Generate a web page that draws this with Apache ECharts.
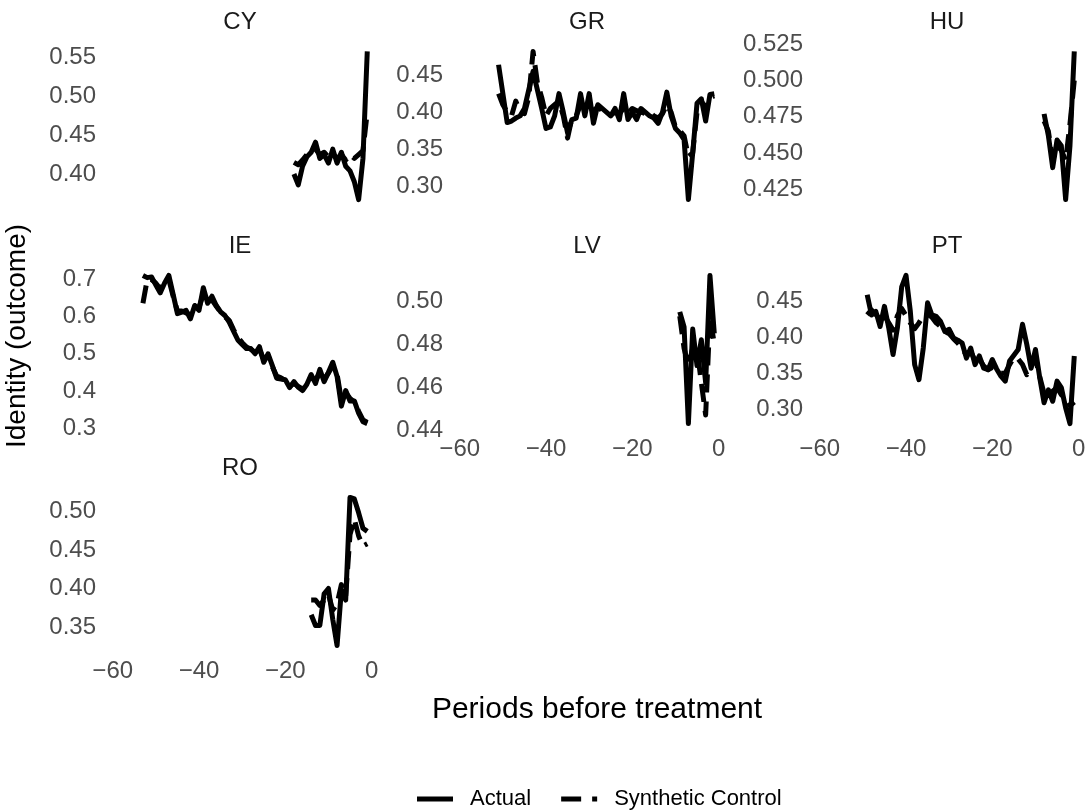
<!DOCTYPE html>
<html><head><meta charset="utf-8">
<script src="https://cdn.jsdelivr.net/npm/echarts@6/dist/echarts.min.js"></script>
<style>html,body{margin:0;padding:0;background:#fff}#c{width:1091px;height:812px}</style>
</head><body><div id="c"></div>
<script>
// ---------- DATA ----------
const countries = ['CY','GR','HU','IE','LV','PT','RO'];
const xTicks = [-60,-40,-20,0];

const cyPeriods = [-18,-17,-16,-15,-14,-13,-12,-11,-10,-9,-8,-7,-6,-5,-4,-3,-2,-1];
const cyActual = [0.400,0.386,0.410,0.422,0.428,0.441,0.420,0.425,0.414,0.432,0.414,0.428,0.410,0.404,0.390,0.367,0.420,0.558];
const cySynth  = [0.415,0.412,0.418,0.425,0.430,0.432,0.425,0.428,0.422,0.425,0.420,0.425,0.418,0.425,0.420,0.425,0.430,0.480];
const cyTicks = [0.40,0.45,0.50,0.55];

const grPeriods = [-51,-50,-49,-48,-47,-46,-45,-44,-43,-42,-41,-40,-39,-38,-37,-36,-35,-34,-33,-32,-31,-30,-29,-28,-27,-26,-25,-24,-23,-22,-21,-20,-19,-18,-17,-16,-15,-14,-13,-12,-11,-10,-9,-8,-7,-6,-5,-4,-3,-2,-1];
const grActual = [0.464,0.425,0.386,0.388,0.392,0.395,0.405,0.430,0.455,0.430,0.405,0.378,0.380,0.395,0.425,0.400,0.372,0.390,0.392,0.425,0.395,0.425,0.385,0.410,0.405,0.400,0.395,0.405,0.390,0.425,0.390,0.400,0.390,0.405,0.400,0.395,0.392,0.385,0.400,0.427,0.395,0.378,0.372,0.363,0.282,0.345,0.412,0.418,0.388,0.424,0.425];
const grSynth  = [0.425,0.410,0.400,0.395,0.415,0.400,0.398,0.420,0.482,0.440,0.420,0.395,0.405,0.410,0.415,0.395,0.365,0.392,0.395,0.410,0.405,0.410,0.400,0.408,0.402,0.398,0.396,0.400,0.398,0.405,0.398,0.405,0.402,0.400,0.398,0.400,0.395,0.392,0.398,0.410,0.400,0.380,0.375,0.368,0.340,0.345,0.400,0.415,0.405,0.420,0.422];
const grTicks = [0.30,0.35,0.40,0.45];

const huPeriods = [-8,-7,-6,-5,-4,-3,-2,-1];
const huActual = [0.477,0.462,0.440,0.459,0.455,0.418,0.455,0.520];
const huSynth  = [0.472,0.465,0.445,0.455,0.452,0.445,0.470,0.500];
const huTicks = [0.425,0.450,0.475,0.500,0.525];

const iePeriods = [-53,-52,-51,-50,-49,-48,-47,-46,-45,-44,-43,-42,-41,-40,-39,-38,-37,-36,-35,-34,-33,-32,-31,-30,-29,-28,-27,-26,-25,-24,-23,-22,-21,-20,-19,-18,-17,-16,-15,-14,-13,-12,-11,-10,-9,-8,-7,-6,-5,-4,-3,-2,-1];
const ieActual = [0.711,0.705,0.707,0.685,0.664,0.690,0.711,0.660,0.608,0.612,0.617,0.594,0.630,0.617,0.678,0.636,0.655,0.630,0.613,0.603,0.585,0.561,0.537,0.525,0.514,0.514,0.500,0.519,0.477,0.500,0.468,0.434,0.432,0.430,0.409,0.425,0.410,0.401,0.418,0.444,0.420,0.458,0.425,0.450,0.477,0.439,0.359,0.401,0.373,0.373,0.340,0.317,0.312];
const ieSynth  = [0.636,0.700,0.700,0.690,0.675,0.690,0.700,0.655,0.615,0.615,0.610,0.605,0.625,0.625,0.660,0.640,0.645,0.628,0.612,0.600,0.590,0.565,0.545,0.530,0.518,0.512,0.505,0.512,0.485,0.495,0.465,0.440,0.435,0.428,0.412,0.420,0.412,0.405,0.420,0.438,0.428,0.450,0.432,0.448,0.468,0.445,0.375,0.395,0.380,0.370,0.345,0.322,0.315];
const ieTicks = [0.3,0.4,0.5,0.6,0.7];

const lvPeriods = [-9,-8,-7,-6,-5,-4,-3,-2,-1];
const lvActual = [0.495,0.488,0.443,0.487,0.470,0.482,0.462,0.512,0.485];
const lvSynth  = [0.493,0.478,0.470,0.478,0.478,0.462,0.447,0.493,0.480];
const lvTicks = [0.44,0.46,0.48,0.50];

const ptPeriods = [-49,-48,-47,-46,-45,-44,-43,-42,-41,-40,-39,-38,-37,-36,-35,-34,-33,-32,-31,-30,-29,-28,-27,-26,-25,-24,-23,-22,-21,-20,-19,-18,-17,-16,-15,-14,-13,-12,-11,-10,-9,-8,-7,-6,-5,-4,-3,-2,-1];
const ptActual = [0.459,0.431,0.436,0.415,0.443,0.413,0.376,0.413,0.470,0.486,0.436,0.362,0.341,0.385,0.448,0.431,0.429,0.422,0.408,0.411,0.399,0.396,0.392,0.371,0.385,0.362,0.374,0.357,0.355,0.369,0.356,0.346,0.339,0.367,0.375,0.383,0.418,0.390,0.357,0.383,0.3435,0.309,0.327,0.311,0.339,0.330,0.302,0.280,0.374];
const ptSynth  = [0.431,0.438,0.432,0.425,0.430,0.420,0.410,0.430,0.440,0.430,0.420,0.412,0.420,0.430,0.432,0.428,0.420,0.415,0.408,0.405,0.398,0.392,0.385,0.375,0.380,0.368,0.370,0.360,0.355,0.358,0.352,0.350,0.350,0.362,0.372,0.370,0.362,0.348,0.360,0.370,0.345,0.322,0.318,0.325,0.330,0.320,0.315,0.305,0.310];
const ptTicks = [0.30,0.35,0.40,0.45];

const roPeriods = [-14,-13,-12,-11,-10,-9,-8,-7,-6,-5,-4,-3,-2,-1];
const roActual = [0.366,0.352,0.352,0.393,0.400,0.360,0.326,0.398,0.385,0.518,0.516,0.498,0.478,0.474];
const roSynth  = [0.385,0.385,0.378,0.385,0.392,0.372,0.380,0.405,0.390,0.470,0.490,0.468,0.455,0.458];
const roTicks = [0.35,0.40,0.45,0.50];

const panelPeriods = [cyPeriods,grPeriods,huPeriods,iePeriods,lvPeriods,ptPeriods,roPeriods];
const panelActual = [cyActual,grActual,huActual,ieActual,lvActual,ptActual,roActual];
const panelSynth = [cySynth,grSynth,huSynth,ieSynth,lvSynth,ptSynth,roSynth];
const panelTicks = [cyTicks,grTicks,huTicks,ieTicks,lvTicks,ptTicks,roTicks];

// ---------- LAYOUT ----------
const decimals = [2,2,3,1,2,2,2];
const colLeft = [100,447,807];
const rowTop = [44,268,490];
const gw = 280, gh = 163;
const showX = [false,false,false,false,true,true,true];
const axisColor = '#4d4d4d';
const FS = 24;
const LW = 5;
const FONT = '"Liberation Sans", Arial, sans-serif';

const chart = echarts.init(document.getElementById('c'), null, {renderer:'canvas'});
const grids = [], xAxes = [], yAxes = [], series = [], graphics = [];
countries.forEach((c,i)=>{
  const col = i%3, row = Math.floor(i/3);
  grids.push({left: colLeft[col], top: rowTop[row], width: gw, height: gh, containLabel:false});
  const all = panelActual[i].concat(panelSynth[i]);
  const lo = Math.min(...all), hi = Math.max(...all), pad = (hi-lo)*0.05;
  xAxes.push({type:'value', gridIndex:i, min:-62.95, max:1.95,
    axisLine:{show:false}, axisTick:{show:false}, splitLine:{show:false},
    axisLabel:{show:showX[i], customValues:xTicks, fontSize:FS, color:axisColor, margin:6,
      fontFamily:FONT,
      formatter: v => v<0 ? '\u2212'+Math.abs(v) : String(v)}});
  yAxes.push({type:'value', gridIndex:i, min:lo-pad, max:hi+pad,
    axisLine:{show:false}, axisTick:{show:false}, splitLine:{show:false},
    axisLabel:{customValues:panelTicks[i], fontSize:FS, color:axisColor, margin:4,
      fontFamily:FONT,
      formatter: v => v.toFixed(decimals[i])}});
  series.push({name:'Actual', type:'line', xAxisIndex:i, yAxisIndex:i, symbol:'none', silent:true,
    data: panelPeriods[i].map((p,j)=>[p, panelActual[i][j]]),
    lineStyle:{color:'#000', width:LW, type:'solid', join:'round'}, itemStyle:{color:'#000'}});
  series.push({name:'Synthetic Control', type:'line', xAxisIndex:i, yAxisIndex:i, symbol:'none', silent:true,
    data: panelPeriods[i].map((p,j)=>[p, panelSynth[i][j]]),
    lineStyle:{color:'#000', width:LW, type:[18,9], join:'round'}, itemStyle:{color:'#000'}});
  graphics.push({type:'text', x: colLeft[col]+gw/2, y: rowTop[row]-22,
    style:{text:c, font:FS+'px '+FONT, fill:'#1a1a1a', textAlign:'center', textVerticalAlign:'middle'}});
});
graphics.push({type:'text', x:17, y:336, rotation:Math.PI/2,
  style:{text:'Identity (outcome)', font:'28px '+FONT, fill:'#000', textAlign:'center', textVerticalAlign:'middle'}});
graphics.push({type:'text', x:597, y:710,
  style:{text:'Periods before treatment', font:'30px '+FONT, fill:'#000', textAlign:'center', textVerticalAlign:'middle'}});

chart.setOption({
  animation:false,
  backgroundColor:'#fff',
  grid: grids, xAxis: xAxes, yAxis: yAxes, series: series,
  legend:{
    data:[
      {name:'Actual', icon:'path://M0,0H36V5H0Z'},
      {name:'Synthetic Control', icon:'path://M0,0H20V5H0Z M31,0H36V5H31Z'}
    ],
    left:412, top:783, itemWidth:36, itemHeight:5, itemGap:30,
    textStyle:{fontSize:22, color:'#000', fontFamily:FONT, padding:[0,0,0,12]}},
  graphic: graphics
});
</script></body></html>
